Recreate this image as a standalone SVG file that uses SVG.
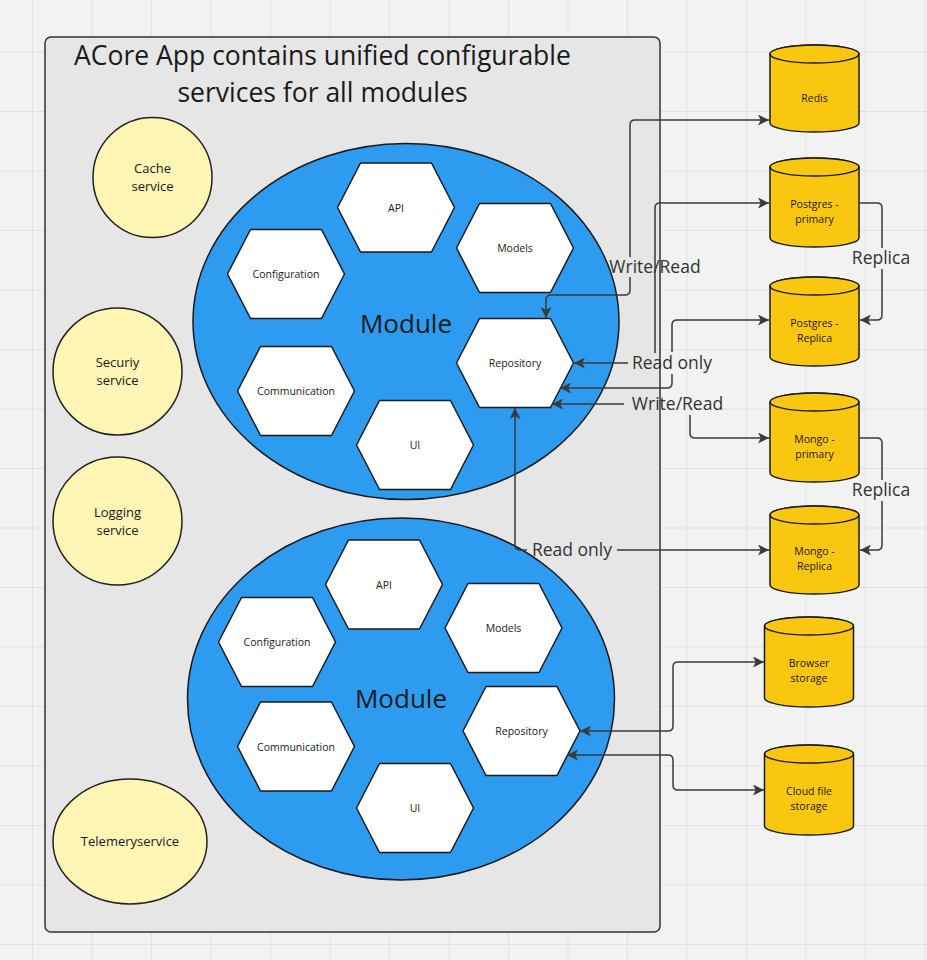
<svg xmlns="http://www.w3.org/2000/svg" xmlns:xlink="http://www.w3.org/1999/xlink" width="927" height="960" viewBox="0 0 927 960">
<style>
  .grid line { stroke: #e2e2e2; stroke-width: 1; }
  .container { fill: #e6e6e6; stroke: #333333; stroke-width: 1.5; }
  .svc { fill: #fff5b5; stroke: #222222; stroke-width: 1.5; }
  .mod { fill: #2d9bf0; stroke: #1a1a1a; stroke-width: 1.5; }
  .hex { fill: #ffffff; stroke: #1a1a1a; stroke-width: 1.5; stroke-linejoin: round; }
  .db { fill: #fac710; stroke: #1a1a1a; stroke-width: 1.5; }
  .conn { fill: none; stroke: #3a3a3a; stroke-width: 1.5; }
  text { font-family: "Open Sans", "Noto Sans", "Liberation Sans", sans-serif; fill: #1a1a1a; text-anchor: middle; }
  .title { font-size: 26.5px; }
  .modt { font-size: 26px; }
  .hext { font-size: 10.5px; }
  .svct { font-size: 13px; }
  .dbt { font-size: 10.5px; }
  .lbl { font-size: 17.5px; fill: #333333; }
</style>
<defs>
  <polygon id="hexshape" points="-58.5,0 -35.5,-44.5 35.5,-44.5 58.5,0 35.5,44.5 -35.5,44.5"/>
  <marker id="arr" viewBox="0 0 10 10" refX="10" refY="5" markerWidth="11" markerHeight="11" markerUnits="userSpaceOnUse" orient="auto-start-reverse">
    <path d="M0,0 L10,5 L0,10 L2.5,5 z" fill="#3a3a3a"/>
  </marker>
</defs>
<rect x="0" y="0" width="927" height="960" fill="#f2f2f2"/>
<g class="grid">
  <line x1="32.5" y1="0" x2="32.5" y2="960"/><line x1="92" y1="0" x2="92" y2="960"/><line x1="151.5" y1="0" x2="151.5" y2="960"/><line x1="211" y1="0" x2="211" y2="960"/><line x1="270.5" y1="0" x2="270.5" y2="960"/><line x1="330" y1="0" x2="330" y2="960"/><line x1="389.5" y1="0" x2="389.5" y2="960"/><line x1="449" y1="0" x2="449" y2="960"/><line x1="508.5" y1="0" x2="508.5" y2="960"/><line x1="568" y1="0" x2="568" y2="960"/><line x1="627.5" y1="0" x2="627.5" y2="960"/><line x1="687" y1="0" x2="687" y2="960"/><line x1="746.5" y1="0" x2="746.5" y2="960"/><line x1="806" y1="0" x2="806" y2="960"/><line x1="865.5" y1="0" x2="865.5" y2="960"/><line x1="925" y1="0" x2="925" y2="960"/>
  <line x1="0" y1="52" x2="927" y2="52"/><line x1="0" y1="111.5" x2="927" y2="111.5"/><line x1="0" y1="171" x2="927" y2="171"/><line x1="0" y1="230.5" x2="927" y2="230.5"/><line x1="0" y1="290" x2="927" y2="290"/><line x1="0" y1="349.5" x2="927" y2="349.5"/><line x1="0" y1="409" x2="927" y2="409"/><line x1="0" y1="468.5" x2="927" y2="468.5"/><line x1="0" y1="528" x2="927" y2="528"/><line x1="0" y1="587.5" x2="927" y2="587.5"/><line x1="0" y1="647" x2="927" y2="647"/><line x1="0" y1="706.5" x2="927" y2="706.5"/><line x1="0" y1="766" x2="927" y2="766"/><line x1="0" y1="825.5" x2="927" y2="825.5"/><line x1="0" y1="885" x2="927" y2="885"/><line x1="0" y1="944.5" x2="927" y2="944.5"/>
</g>

<g id="acore-app">
  <rect class="container" x="45" y="37" width="615" height="895" rx="6"/>
  <text class="title" x="322.5" y="65">ACore App contains unified configurable</text>
  <text class="title" x="322.5" y="102">services for all modules</text>
</g>

<g id="cache-service">
  <ellipse class="svc" cx="152.5" cy="177.5" rx="59.5" ry="60"/>
  <text class="svct" x="152.5" y="173">Cache</text>
  <text class="svct" x="152.5" y="191">service</text>
</g>
<g id="security-service">
  <ellipse class="svc" cx="117.5" cy="371.5" rx="64.5" ry="63.5"/>
  <text class="svct" x="117.5" y="367">Securiy</text>
  <text class="svct" x="117.5" y="385">service</text>
</g>
<g id="logging-service">
  <ellipse class="svc" cx="117.5" cy="521" rx="64.5" ry="64"/>
  <text class="svct" x="117.5" y="516.5">Logging</text>
  <text class="svct" x="117.5" y="534.5">service</text>
</g>
<g id="telemetry-service">
  <ellipse class="svc" cx="130" cy="841.5" rx="77" ry="62.5"/>
  <text class="svct" x="130" y="846">Telemeryservice</text>
</g>

<g id="module-top">
  <ellipse class="mod" cx="406" cy="321.5" rx="213" ry="178"/>
  <text class="modt" x="406" y="333">Module</text>
</g>
<g id="top-api"><use href="#hexshape" class="hex" x="396" y="207.5"/><text class="hext" x="396" y="211.5">API</text></g>
<g id="top-models"><use href="#hexshape" class="hex" x="515" y="248"/><text class="hext" x="515" y="252">Models</text></g>
<g id="top-configuration"><use href="#hexshape" class="hex" x="286" y="274"/><text class="hext" x="286" y="278">Configuration</text></g>
<g id="top-communication"><use href="#hexshape" class="hex" x="296" y="391"/><text class="hext" x="296" y="395">Communication</text></g>
<g id="top-ui"><use href="#hexshape" class="hex" x="415" y="445"/><text class="hext" x="415" y="449">UI</text></g>
<g id="top-repository"><use href="#hexshape" class="hex" x="515" y="363"/><text class="hext" x="515" y="367">Repository</text></g>

<g id="module-bottom">
  <ellipse class="mod" cx="401" cy="699" rx="213.5" ry="181"/>
  <text class="modt" x="401" y="708">Module</text>
</g>
<g id="bottom-api"><use href="#hexshape" class="hex" x="384" y="584.5"/><text class="hext" x="384" y="588.5">API</text></g>
<g id="bottom-models"><use href="#hexshape" class="hex" x="503.5" y="628"/><text class="hext" x="503.5" y="632">Models</text></g>
<g id="bottom-configuration"><use href="#hexshape" class="hex" x="277" y="642"/><text class="hext" x="277" y="646">Configuration</text></g>
<g id="bottom-communication"><use href="#hexshape" class="hex" x="296" y="746.5"/><text class="hext" x="296" y="750.5">Communication</text></g>
<g id="bottom-ui"><use href="#hexshape" class="hex" x="415" y="808"/><text class="hext" x="415" y="812">UI</text></g>
<g id="bottom-repository"><use href="#hexshape" class="hex" x="521.5" y="731"/><text class="hext" x="521.5" y="735">Repository</text></g>

<g id="redis">
  <path class="db" d="M770,54 A44.5,9 0 0 1 859,54 V123 A44.5,9 0 0 1 770,123 Z"/>
  <ellipse class="db" cx="814.5" cy="54" rx="44.5" ry="9"/>
  <text class="dbt" x="814.5" y="101.5">Redis</text>
</g>
<g id="postgres-primary">
  <path class="db" d="M770,167 A44.5,9 0 0 1 859,167 V238 A44.5,9 0 0 1 770,238 Z"/>
  <ellipse class="db" cx="814.5" cy="167" rx="44.5" ry="9"/>
  <text class="dbt" x="814.5" y="207.5">Postgres -</text>
  <text class="dbt" x="814.5" y="222.5">primary</text>
</g>
<g id="postgres-replica">
  <path class="db" d="M770,286 A44.5,9 0 0 1 859,286 V357 A44.5,9 0 0 1 770,357 Z"/>
  <ellipse class="db" cx="814.5" cy="286" rx="44.5" ry="9"/>
  <text class="dbt" x="814.5" y="326.5">Postgres -</text>
  <text class="dbt" x="814.5" y="341.5">Replica</text>
</g>
<g id="mongo-primary">
  <path class="db" d="M770,402 A44.5,9 0 0 1 859,402 V473 A44.5,9 0 0 1 770,473 Z"/>
  <ellipse class="db" cx="814.5" cy="402" rx="44.5" ry="9"/>
  <text class="dbt" x="814.5" y="443">Mongo -</text>
  <text class="dbt" x="814.5" y="458">primary</text>
</g>
<g id="mongo-replica">
  <path class="db" d="M770,515 A44.5,9 0 0 1 859,515 V585 A44.5,9 0 0 1 770,585 Z"/>
  <ellipse class="db" cx="814.5" cy="515" rx="44.5" ry="9"/>
  <text class="dbt" x="814.5" y="555">Mongo -</text>
  <text class="dbt" x="814.5" y="570">Replica</text>
</g>
<g id="browser-storage">
  <path class="db" d="M764.5,626 A44.5,9 0 0 1 853.5,626 V698 A44.5,9 0 0 1 764.5,698 Z"/>
  <ellipse class="db" cx="809" cy="626" rx="44.5" ry="9"/>
  <text class="dbt" x="809" y="667">Browser</text>
  <text class="dbt" x="809" y="682">storage</text>
</g>
<g id="cloud-file-storage">
  <path class="db" d="M764.5,754 A44.5,9 0 0 1 853.5,754 V826 A44.5,9 0 0 1 764.5,826 Z"/>
  <ellipse class="db" cx="809" cy="754" rx="44.5" ry="9"/>
  <text class="dbt" x="809" y="795">Cloud file</text>
  <text class="dbt" x="809" y="810">storage</text>
</g>

<g id="connectors">
  <path class="conn" marker-start="url(#arr)" marker-end="url(#arr)" d="M546,318 V300 Q546,295 551,295 H625 Q630,295 630,290 V277 M630,257 V125 Q630,120 635,120 H769"/>
  <path class="conn" marker-start="url(#arr)" marker-end="url(#arr)" d="M574,363 H628 M655,353 V208 Q655,203 660,203 H769"/>
  <path class="conn" marker-start="url(#arr)" marker-end="url(#arr)" d="M560,388 H667 Q672,388 672,383 V374 M672,352 V325 Q672,320 677,320 H769"/>
  <path class="conn" marker-start="url(#arr)" marker-end="url(#arr)" d="M552,404 H624 M690,415 V433 Q690,438 695,438 H769"/>
  <path class="conn" marker-start="url(#arr)" marker-end="url(#arr)" d="M515,408 V545 Q515,550 520,550 H527 M617,550 H769"/>
  <path class="conn" marker-end="url(#arr)" d="M859,203 H877 Q882,203 882,208 V248 M882,269 V315 Q882,320 877,320 H860"/>
  <path class="conn" marker-end="url(#arr)" d="M859,438 H877 Q882,438 882,443 V480 M882,501 V545 Q882,550 877,550 H860"/>
  <path class="conn" marker-start="url(#arr)" marker-end="url(#arr)" d="M580,731 H668 Q673,731 673,726 V667 Q673,662 678,662 H764"/>
  <path class="conn" marker-start="url(#arr)" marker-end="url(#arr)" d="M567,755 H668 Q673,755 673,760 V785 Q673,790 678,790 H764"/>
  <text class="lbl" x="655" y="273">Write/Read</text>
  <text class="lbl" x="672" y="368.5">Read only</text>
  <text class="lbl" x="677.5" y="410">Write/Read</text>
  <text class="lbl" x="572" y="556">Read only</text>
  <text class="lbl" x="881" y="264">Replica</text>
  <text class="lbl" x="881" y="496">Replica</text>
</g>
</svg>
